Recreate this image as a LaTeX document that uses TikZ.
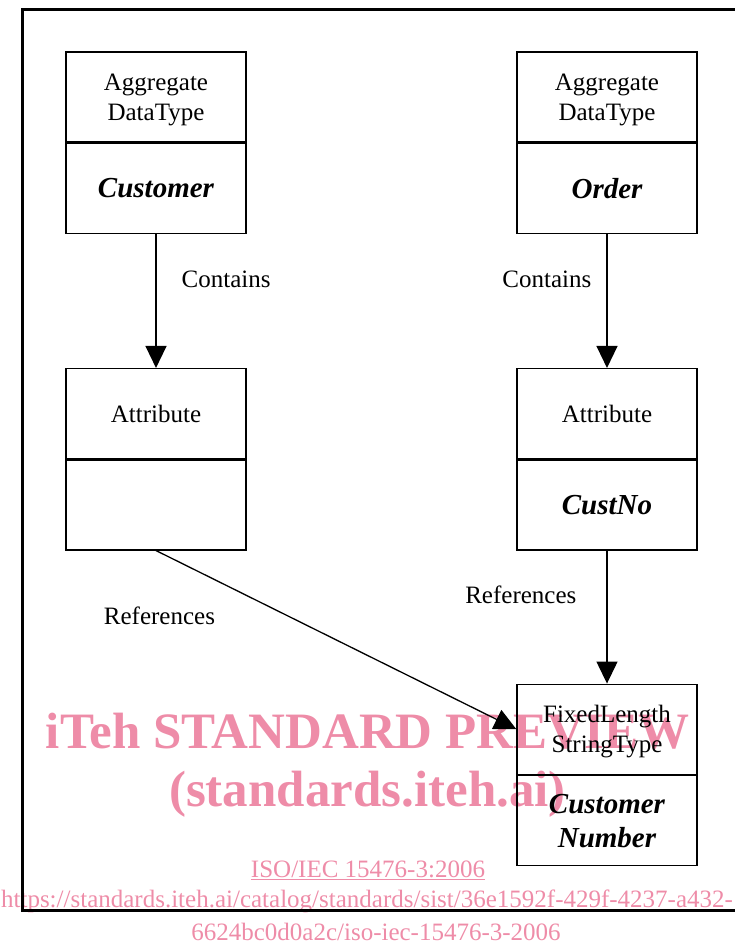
\documentclass[tikz,border=0pt]{standalone}
\usepackage{fontspec}
\setmainfont{Liberation Serif}
\usepackage{xcolor}
\usetikzlibrary{positioning,arrows.meta}
\definecolor{itehPink}{RGB}{238,140,168}
\tikzset{
  typeBox/.style={
    rectangle,
    draw=black,
    line width=1.3pt,
    minimum width=180pt,
    minimum height=90pt,
    inner sep=0pt,
    text depth=0pt,
    align=center,
    font=\fontsize{25}{30}\selectfont
  },
  nameBox/.style={
    typeBox,
    font=\fontsize{29}{34}\selectfont\bfseries\itshape
  },
  arrowLine/.style={
    -{Triangle[length=22pt,width=21pt]},
    line width=1.3pt
  },
  edgeLabel/.style={
    inner sep=0pt,
    font=\fontsize{25}{30}\selectfont
  },
  markBig/.style={
    text=itehPink,
    inner sep=0pt,
    anchor=base,
    font=\fontsize{51}{56}\selectfont\bfseries
  },
  markSmall/.style={
    text=itehPink,
    inner sep=0pt,
    anchor=base,
    font=\fontsize{25}{30}\selectfont
  }
}

\begin{document}
\begin{tikzpicture}[x=1pt,y=-1pt]
        \useasboundingbox (0,0) rectangle (735,945);

        \node[markBig] (wmTitle) at (367.5,748) {iTeh STANDARD PREVIEW};
        \node[markBig] (wmSite) at (367.5,806) {(standards.iteh.ai)};
        \node[markSmall] (isoRef) at (368,877) {\underline{ISO/IEC 15476-3:2006}};
        \node[markSmall] (urlLineA) at (367,907) {https://standards.iteh.ai/catalog/standards/sist/36e1592f-429f-4237-a432-};
        \node[markSmall] (urlLineB) at (376,940) {6624bc0d0a2c/iso-iec-15476-3-2006};

        \draw[line width=3pt] (745,9) -- (22,9) -- (22,910) -- (745,910);

        \node[typeBox] (custType) at (156,97) {Aggregate\\DataType};
        \node[nameBox, below=0pt of custType] (custName) {Customer};
        \node[typeBox] (ordType) at (607,97) {Aggregate\\DataType};
        \node[nameBox, below=0pt of ordType] (ordName) {Order};

        \node[typeBox, below=134pt of custName] (attrLType) {Attribute};
        \node[nameBox, below=0pt of attrLType] (attrLName) {};
        \node[typeBox, below=134pt of ordName] (attrRType) {Attribute};
        \node[nameBox, below=0pt of attrRType] (attrRName) {CustNo};

        \node[typeBox, below=133pt of attrRName] (fltType) {FixedLength\\StringType};
        \node[nameBox, below=0pt of fltType] (fltName) {Customer\\Number};

        \draw[arrowLine] (custName) -- node[edgeLabel, pos=0.34, anchor=west, xshift=25pt]{Contains} (attrLType);
        \draw[arrowLine] (ordName) -- node[edgeLabel, pos=0.34, anchor=east, xshift=-15pt]{Contains} (attrRType);
        \draw[arrowLine] (attrRName) -- node[edgeLabel, pos=0.33, anchor=east, xshift=-30pt]{References} (fltType);
        \draw[arrowLine] (attrLName.south) -- node[edgeLabel, pos=0.19, xshift=-65pt, yshift=-31pt]{References} (fltType.west);

    \end{tikzpicture}
\end{document}
